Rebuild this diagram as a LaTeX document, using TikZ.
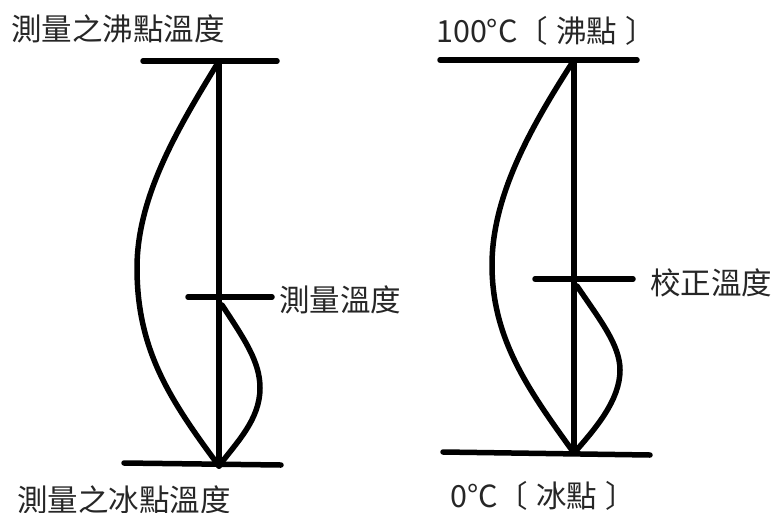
\documentclass[tikz,border=0pt]{standalone}
\usepackage{fontspec}
\newfontfamily\cjk{Noto Sans CJK TC}
\begin{document}
\begin{tikzpicture}[x=1pt,y=-1pt,
  thick line/.style={line width=5.5pt,line cap=round,line join=round},
  lbl/.style={font=\cjk\fontsize{30.5}{33}\selectfont,text=black!85,inner sep=0pt}]
\useasboundingbox (0,0) rectangle (773,512);
% ---------- left diagram ----------
\coordinate (LT1) at (143,61);
\coordinate (LT2) at (277,61);
\coordinate (LTop) at (219,61);
\coordinate (LMid) at (219,297);
\coordinate (LM1) at (188,297);
\coordinate (LM2) at (272,297);
\coordinate (LB1) at (124,463);
\coordinate (LB2) at (281,465);
\coordinate (LBot) at (219,466);
\draw[thick line] (LT1) -- (LT2);
\draw[thick line] (LTop) -- (LBot);
\draw[thick line] (LM1) -- (LM2);
\draw[thick line] (LB1) -- (LB2);
\draw[thick line] (LTop) .. controls (180,125) and (137,195) .. (137,268)
  .. controls (137,350) and (170,400) .. (LBot);
\draw[thick line] (222,305) .. controls (245,340) and (260,362) .. (260,388)
  .. controls (260,420) and (236,443) .. (LBot);
\node[lbl,anchor=west] (ltop) at (11,29) {測量之沸點溫度};
\node[lbl,anchor=west] (lmid) at (279,300) {測量溫度};
\node[lbl,anchor=west] (lbot) at (17,500) {測量之冰點溫度};
% ---------- right diagram ----------
\coordinate (RT1) at (440,60);
\coordinate (RT2) at (637,60);
\coordinate (RTop) at (574,60);
\coordinate (RM1) at (535,279);
\coordinate (RM2) at (633,279);
\coordinate (RB1) at (443,452);
\coordinate (RB2) at (650,455);
\coordinate (RBot) at (574,453);
\draw[thick line] (RT1) -- (RT2);
\draw[thick line] (RTop) -- (RBot);
\draw[thick line] (RM1) -- (RM2);
\draw[thick line] (RB1) -- (RB2);
\draw[thick line] (RTop) .. controls (532,125) and (492,195) .. (492,265)
  .. controls (492,340) and (530,392) .. (RBot);
\draw[thick line] (577,286) .. controls (600,320) and (620,345) .. (620,370)
  .. controls (620,400) and (596,428) .. (RBot);
\node[lbl,anchor=west] (rtop) at (436,31) {100°C〔\hspace{8pt}沸點\hspace{8pt}〕};
\node[lbl,anchor=west] (rmid) at (650,283) {校正溫度};
\node[lbl,anchor=west] (rbot) at (450,496) {0°C〔\hspace{8pt}冰點\hspace{8pt}〕};
\end{tikzpicture}
\end{document}
